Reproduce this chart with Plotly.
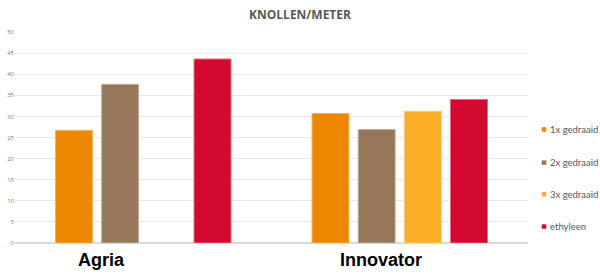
import plotly.graph_objects as go

categories = ["Agria", "Innovator"]
series_names = ["1x gedraaid", "2x gedraaid", "3x gedraaid", "ethyleen"]
values_1x = [26.7, 30.7]
values_2x = [37.6, 26.9]
values_3x = [None, 31.2]
values_eth = [43.6, 34.0]
colors = ["#EE8700", "#967759", "#F9AE26", "#D20A2F"]
line_colors = ["#F6B060", "#C4AE98", "#FBCB78", "#E8667E"]
y_ticks = [0, 5, 10, 15, 20, 25, 30, 35, 40, 45, 50]

# layout helpers (positions / styles)
legend_y = [0.538, 0.381, 0.231, 0.078]
label_shift = [-42, -19]

fig = go.Figure()
for i, (name, vals) in enumerate(zip(series_names, [values_1x, values_2x, values_3x, values_eth])):
    fig.add_trace(go.Bar(
        x=categories, y=vals, name=name,
        marker=dict(color=colors[i], line=dict(color=line_colors[i], width=1)),
        showlegend=False,
    ))

annotations = []
shapes = []
for i, name in enumerate(series_names):
    yc = legend_y[i]
    shapes.append(dict(type="rect", xref="paper", yref="paper",
                       x0=1.0267, x1=1.0357, y0=yc - 0.0105, y1=yc + 0.0105,
                       fillcolor=colors[i], line=dict(width=0)))
    annotations.append(dict(text=name, xref="paper", yref="paper", x=1.039, y=yc,
                            xanchor="left", yanchor="middle", showarrow=False,
                            font=dict(family="Lato", size=9.5, color="#595959")))
for cat, sh in zip(categories, label_shift):
    annotations.append(dict(text="<b>" + cat + "</b>", xref="x", yref="paper", x=cat, y=0,
                            xanchor="center", yanchor="middle", yshift=-17, xshift=sh,
                            showarrow=False,
                            font=dict(family="Liberation Sans", size=18, color="black")))

fig.update_layout(
    width=600, height=277,
    margin=dict(l=15, r=72, t=31.5, b=33.7, autoexpand=False),
    paper_bgcolor="white", plot_bgcolor="white",
    barmode="group", bargap=0.28, bargroupgap=0.2,
    title=dict(text="<b>KNOLLEN/METER</b>", x=0.5, xanchor="center", y=0.945, yanchor="middle",
               font=dict(family="Open Sans", size=12, color="#595959")),
    showlegend=False,
    annotations=annotations, shapes=shapes,
)
fig.update_xaxes(showgrid=False, showline=False, ticks="", showticklabels=False)
fig.update_yaxes(
    range=[0, 50], tickvals=y_ticks, showgrid=True, gridcolor="#E8E8E8", gridwidth=1,
    zeroline=True, zerolinecolor="#D9D9D9", showline=False, ticks="",
    tickfont=dict(family="Open Sans", size=6, color="#808080"),
)
fig.write_html("out.html")
